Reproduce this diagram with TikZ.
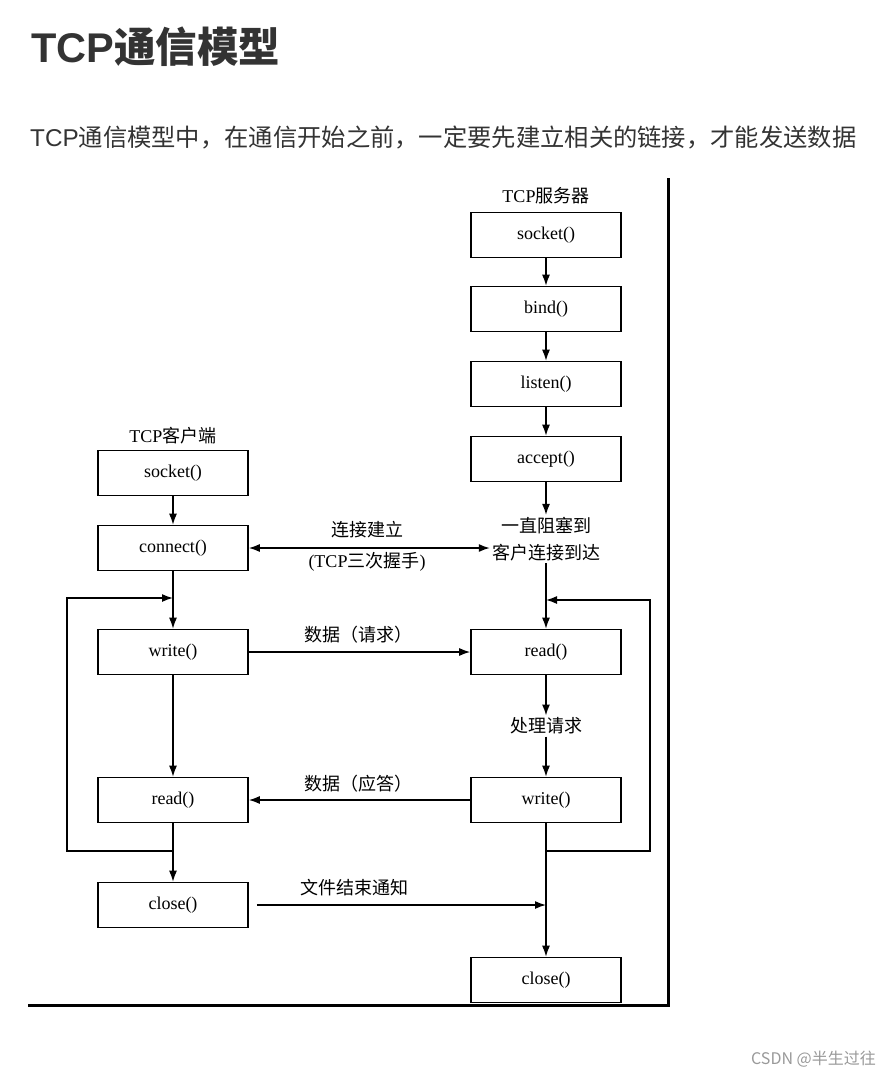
\documentclass[tikz,border=0pt]{standalone}
\usepackage{fontspec}
\setmainfont{Liberation Serif}
\newfontfamily\cjk{Noto Sans CJK SC}
\newfontfamily\latinsans{Liberation Sans}
\usetikzlibrary{arrows.meta}
\definecolor{txtgray}{HTML}{333333}
\definecolor{markgray}{HTML}{999999}
\tikzset{
  box/.style={draw, line width=1.6pt, minimum width=150pt, minimum height=45pt, inner sep=0pt, font=\fontsize{18}{20}\selectfont},
  lbl/.style={inner sep=2pt, align=center, font=\fontsize{18}{27}\selectfont\cjk},
  arr/.style={-{Latex[length=11pt,width=8pt]}, line width=1.4pt},
  darr/.style={{Latex[length=11pt,width=8pt]}-{Latex[length=11pt,width=8pt]}, line width=1.4pt}
}

\begin{document}
\begin{tikzpicture}[x=1pt, y=-1pt] % 1px = 1pt, y向下
  \useasboundingbox (0,0) rectangle (892,1077);
  % 标题
  \node[anchor=base west, inner sep=0pt, text=txtgray, font=\fontsize{41.5}{44}\selectfont\cjk\bfseries] (title) at (31,62) {{\latinsans TCP}通信模型};
  \node[anchor=base west, inner sep=0pt, text=txtgray, font=\fontsize{24.3}{28}\selectfont\cjk] (intro) at (30,146) {{\latinsans TCP}通信模型中，在通信开始之前，一定要先建立相关的链接，才能发送数据};

  % 服务器端
  \node[lbl] (stitle) at (546,196) {{\rmfamily TCP}服务器};
  \node[box] (ssock) at (546,235) {socket()};
  \node[box] (sbind) at (546,309) {bind()};
  \node[box] (slisten) at (546,384) {listen()};
  \node[box] (saccept) at (546,459) {accept()};
  \node[lbl] (swait) at (546,539) {一直阻塞到\\客户连接到达};
  \node[box] (sread) at (546,652) {read()};
  \node[lbl] (sproc) at (546,726) {处理请求};
  \node[box] (swrite) at (546,800) {write()};
  \node[box] (sclose) at (546,980) {close()};

  % 客户端
  \node[lbl] (ctitle) at (173,436) {{\rmfamily TCP}客户端};
  \node[box] (csock) at (173,473) {socket()};
  \node[box] (cconn) at (173,548) {connect()};
  \node[box] (cwrite) at (173,652) {write()};
  \node[box] (cread) at (173,800) {read()};
  \node[box] (cclose) at (173,905) {close()};

  % 循环的拐点
  \coordinate (sjoin) at (546,851);
  \coordinate (srb) at (650,851);
  \coordinate (srt) at (650,600);
  \coordinate (sin) at (546,600);
  \coordinate (send) at (546,905);
  \coordinate (cjoin) at (173,851);
  \coordinate (clb) at (67,851);
  \coordinate (clt) at (67,598);
  \coordinate (cin) at (173,598);

  % 服务器流程
  \draw[arr] (ssock) -- (sbind);
  \draw[arr] (sbind) -- (slisten);
  \draw[arr] (slisten) -- (saccept);
  \draw[arr] (saccept) -- (swait);
  \draw[arr] (swait) -- (sread);
  \draw[arr] (sread) -- (sproc);
  \draw[arr] (sproc) -- (swrite);
  \draw[arr] (swrite) -- (sclose);
  \draw[arr] (sjoin) -- (srb) -- (srt) -- (sin); % 回到read()

  % 客户端流程
  \draw[arr] (csock) -- (cconn);
  \draw[arr] (cconn) -- (cwrite);
  \draw[arr] (cwrite) -- (cread);
  \draw[arr] (cread) -- (cclose);
  \draw[arr] (cjoin) -- (clb) -- (clt) -- (cin); % 回到write()

  % 两端之间
  \draw[darr] (cconn.east) -- (cconn.east -| swait.west);
  \node[lbl] (lconn) at (367,530) {连接建立};
  \node[lbl] (lhand) at (367,562) {{\rmfamily (TCP}三次握手{\rmfamily )}};
  \draw[arr] (cwrite) -- (sread);
  \node[lbl] (lreq) at (358,635) {数据（请求）};
  \draw[arr] (swrite) -- (cread);
  \node[lbl] (lrep) at (358,784) {数据（应答）};
  \draw[arr, shorten <=8pt] (cclose) -- (send);
  \node[lbl] (lfin) at (354,888) {文件结束通知};

  % 边框
  \draw[line width=3pt] (668,178) -- (668,1005) -- (28,1005);

  \node[anchor=base east, inner sep=0pt, text=markgray, font=\fontsize{16}{18}\selectfont\cjk] (mark) at (876,1064) {CSDN @半生过往};
\end{tikzpicture}
\end{document}
